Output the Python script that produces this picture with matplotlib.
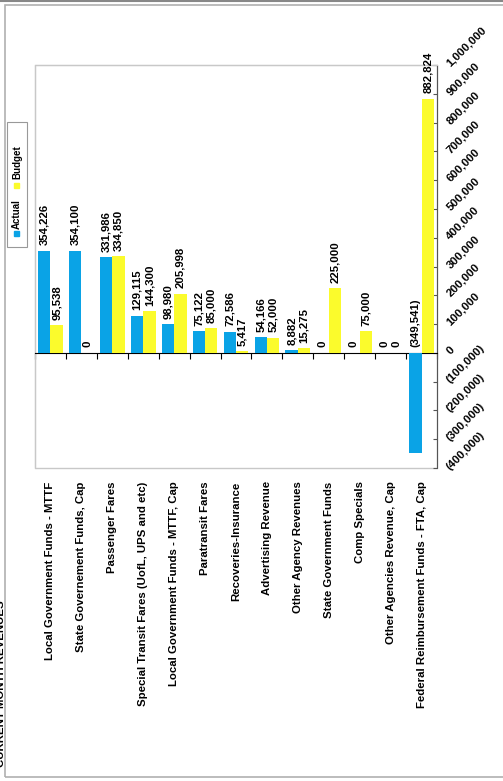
import matplotlib
matplotlib.use("Agg")
import matplotlib.pyplot as plt
import matplotlib.transforms as mtransforms
from matplotlib.patches import Rectangle
from matplotlib.lines import Line2D
import numpy as np

categories = [
    "Local Government Funds - MTTF",
    "State Governement Funds, Cap",
    "Passenger Fares",
    "Special Transit Fares (UofL, UPS and etc)",
    "Local Government Funds - MTTF, Cap",
    "Paratransit Fares",
    "Recoveries-Insurance",
    "Advertising Revenue",
    "Other Agency Revenues",
    "State Government Funds",
    "Comp Specials",
    "Other Agencies Revenue, Cap",
    "Federal Reimbursement Funds - FTA, Cap",
]
actual = [354226, 354100, 331986, 129115, 98980, 75122, 72586, 54166, 8882, 0, 0, 0, -349541]
budget = [95538, 0, 334850, 144300, 205998, 85000, 5417, 52000, 15275, 225000, 75000, 0, 882824]
yticks = np.arange(-400000, 1000001, 100000)

BLUE = "#0aa3e6"
YELLOW = "#fbfb2c"

plt.rcParams["font.family"] = ["Liberation Sans", "DejaVu Sans"]
plt.rcParams["font.weight"] = "bold"
FS = 8.2


def fmt(v):
    if v < 0:
        return f"({abs(v):,.0f})"
    return f"{v:,.0f}"


fig = plt.figure(figsize=(5.03, 7.81), dpi=100)
W, H = 503, 781
ax = fig.add_axes([35 / W, 1 - 468 / H, 402 / W, 403 / H])

x = np.arange(len(categories))
bw = 0.4
ax.bar(x - bw / 2, actual, bw, color=BLUE, label="Actual", zorder=3)
ax.bar(x + bw / 2, budget, bw, color=YELLOW, label="Budget", zorder=3)

# value labels
for xi, a, b in zip(x, actual, budget):
    for off, v in ((-bw / 2, a), (bw / 2, b)):
        ax.annotate(fmt(v), (xi + off, max(v, 0)), xytext=(0, 4),
                    textcoords="offset points", rotation=90, ha="center",
                    va="bottom", fontsize=FS, fontweight="bold",
                    annotation_clip=False)

ax.set_xlim(-0.5, len(categories) - 0.5)
ax.set_ylim(-400000, 1000000)

# value axis on the right, labels at 45 degrees
ax.yaxis.tick_right()
ax.set_yticks(yticks)
ax.set_yticklabels([fmt(v) for v in yticks])
ax.tick_params(axis="y", direction="in", length=3, color="#555555", pad=8,
               labelsize=FS)
for lab in ax.get_yticklabels():
    lab.set_rotation(45)
    lab.set_rotation_mode("anchor")
    lab.set_ha("left")
    lab.set_va("center")
    lab.set_fontweight("bold")

# category axis line at zero with boundary ticks
ax.spines["bottom"].set_position(("data", 0))
ax.spines["bottom"].set_color("black")
ax.set_xticks(np.arange(len(categories) + 1) - 0.5)
ax.set_xticklabels([])
ax.tick_params(axis="x", direction="out", length=4, color="black")

for s in ("left", "top"):
    ax.spines[s].set_color("#c8c8c8")
ax.spines["right"].set_color("#555555")
ax.add_patch(Rectangle((0, 0), 1, 1, transform=ax.transAxes, fill=False,
                       edgecolor="#c8c8c8", lw=1, zorder=0, clip_on=False))

trans = mtransforms.blended_transform_factory(ax.transData, ax.transAxes)
for xi, name in zip(x, categories):
    ax.text(xi, -0.033, name, transform=trans, rotation=90, ha="center",
            va="top", fontsize=FS, fontweight="bold")

# legend drawn by hand (rotated)
fig.add_artist(Rectangle((7 / W, 1 - 247 / H), 20 / W, 125 / H,
                         transform=fig.transFigure, fill=False,
                         edgecolor="#999999", lw=0.8))
fig.add_artist(Rectangle((14 / W, 1 - 236 / H), 5 / W, 5 / H,
                         transform=fig.transFigure, color=BLUE))
fig.text(17 / W, 1 - 229 / H, "Actual", rotation=90, ha="center", va="bottom",
         fontsize=7, fontweight="bold")
fig.add_artist(Rectangle((14 / W, 1 - 188 / H), 5 / W, 5 / H,
                         transform=fig.transFigure, color=YELLOW))
fig.text(17 / W, 1 - 179 / H, "Budget", rotation=90, ha="center", va="bottom",
         fontsize=7, fontweight="bold")

# page frame and partly cut title at the left edge, as in the scan
fig.add_artist(Rectangle((5 / W, 4 / H), 1.0, 1 - 9 / H,
                         transform=fig.transFigure, fill=False,
                         edgecolor="#b0b0b0", lw=1.2))
fig.add_artist(Line2D([0, 1], [1 - 0.8 / H, 1 - 0.8 / H],
                      transform=fig.transFigure, color="#888888", lw=1.5))
fig.text(1.5 / W, 14 / H, "CURRENT MONTH REVENUES", rotation=90, ha="center",
         va="bottom", fontsize=FS, fontweight="bold")

fig.savefig("out.png", dpi=100)
